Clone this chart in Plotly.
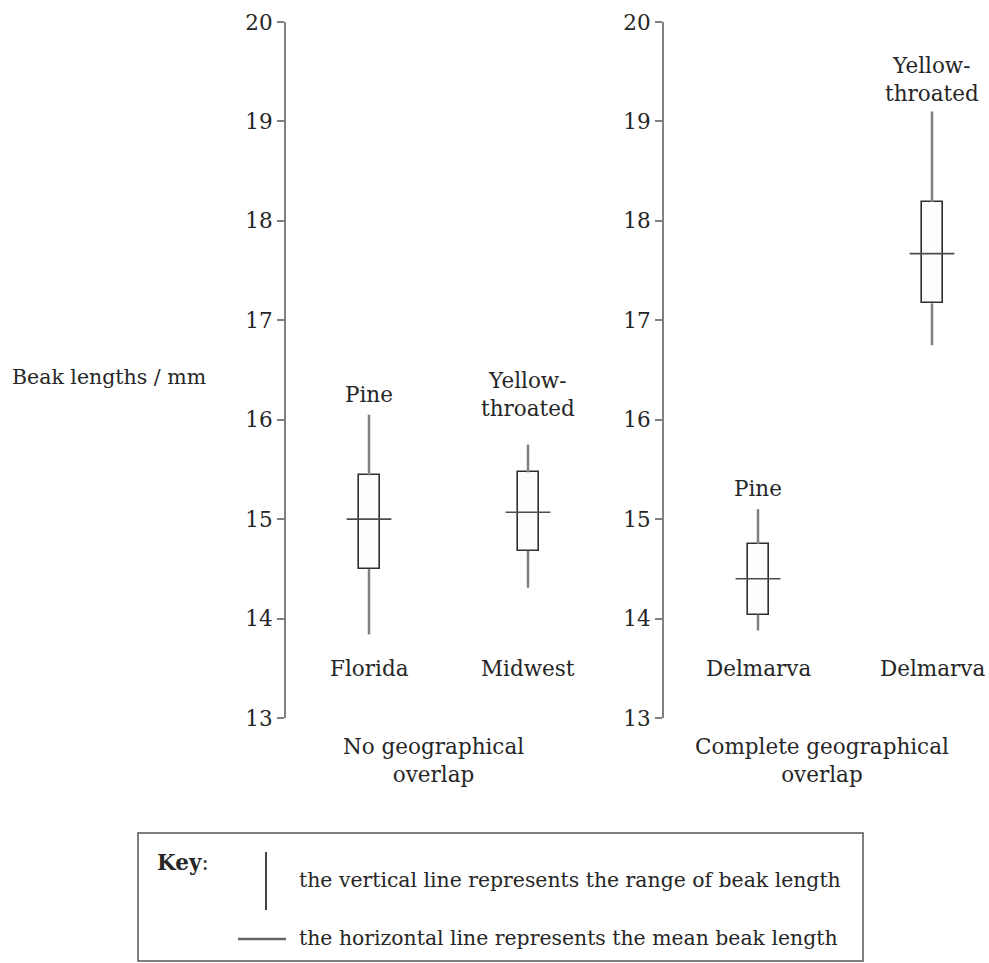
import plotly.graph_objects as go

# ---- data -------------------------------------------------------------
panels = ["No geographical<br>overlap", "Complete geographical<br>overlap"]
regions = [["Florida", "Midwest"], ["Delmarva", "Delmarva"]]
species = [["Pine", "Yellow-<br>throated"], ["Pine", "Yellow-<br>throated"]]
range_max = [[16.05, 15.75], [15.10, 19.10]]
box_top = [[15.44, 15.47], [14.75, 18.19]]
mean_len = [[15.00, 15.07], [14.40, 17.67]]
box_bottom = [[14.50, 14.68], [14.04, 17.17]]
range_min = [[13.84, 14.31], [13.88, 16.75]]
y_ticks = [13, 14, 15, 16, 17, 18, 19, 20]
y_title = "Beak lengths / mm"
key_title = "<b>Key</b>:"
key_range = "the vertical line represents the range of beak length"
key_mean = "the horizontal line represents the mean beak length"

# ---- style ------------------------------------------------------------
W, H = 989, 963
FONT = "DejaVu Serif"
FS = 21.5
TXT = "#262626"
AXC = "#808080"
WHISK = "#808080"
BOXL = "#2e2e2e"
MEANC = "#4d4d4d"


def px(x):
    return x / W


def py(y):
    return 1 - y / H


y_dom = [py(718), py(22)]
x_dom = [[px(286), px(600)], [px(664), 1.0]]
x_rng = [[(286 - 369) / 159, (600 - 369) / 159],
         [(664 - 758) / 174, (989 - 758) / 174]]
bar_w = [21 / 159, 21 / 174]
label_shift = [[6, 22], [6, 3]]

fig = go.Figure()
annotations = []
for p in range(2):
    xa = "x" if p == 0 else "x2"
    ya = "y" if p == 0 else "y2"
    xs = list(range(len(regions[p])))
    wx, wy = [], []
    for i in xs:
        wx += [i, i, None, i, i, None]
        wy += [range_max[p][i], box_top[p][i], None, box_bottom[p][i], range_min[p][i], None]
    fig.add_trace(go.Scatter(x=wx, y=wy, mode="lines", xaxis=xa, yaxis=ya,
                             line=dict(color=WHISK, width=2.5), showlegend=False,
                             hoverinfo="skip"))
    fig.add_trace(go.Bar(x=xs, y=[box_top[p][i] - box_bottom[p][i] for i in xs],
                         base=box_bottom[p], width=bar_w[p], xaxis=xa, yaxis=ya,
                         marker=dict(color="#fffdfb", line=dict(color=BOXL, width=1.6)),
                         showlegend=False))
    fig.add_trace(go.Scatter(x=xs, y=mean_len[p], mode="markers", xaxis=xa, yaxis=ya,
                             marker=dict(symbol="line-ew", size=32,
                                         line=dict(color=MEANC, width=1.6)),
                             showlegend=False))
    for i in xs:
        annotations.append(dict(x=i, y=range_max[p][i], xref=xa, yref=ya,
                                text=species[p][i], showarrow=False, yanchor="bottom",
                                yshift=label_shift[p][i], align="center",
                                font=dict(family=FONT, size=FS, color=TXT)))
        annotations.append(dict(x=i, y=13.5, xref=xa, yref=ya, text=regions[p][i],
                                showarrow=False, yanchor="middle",
                                font=dict(family=FONT, size=FS, color=TXT)))


def note(x, y, text, anchor="left", size=FS):
    annotations.append(dict(x=px(x), y=py(y), xref="paper", yref="paper", text=text,
                            showarrow=False, xanchor=anchor, yanchor="middle",
                            align="center", font=dict(family=FONT, size=size, color=TXT)))


note(433, 760, panels[0], "center")
note(822, 760, panels[1], "center")
note(10, 377, y_title, "left", 20.5)
note(155, 862, key_title)
note(297, 880, key_range, "left", 20.4)
note(297, 938, key_mean, "left", 20.4)

shapes = [
    dict(type="rect", xref="paper", yref="paper", x0=px(138), x1=px(863),
         y0=py(961), y1=py(833), line=dict(color="#555555", width=1.5)),
    dict(type="line", xref="paper", yref="paper", x0=px(266), x1=px(266),
         y0=py(852), y1=py(910), line=dict(color="#444444", width=2)),
    dict(type="line", xref="paper", yref="paper", x0=px(238), x1=px(286),
         y0=py(939), y1=py(939), line=dict(color="#666666", width=2.5)),
]

yax = dict(range=[13, 20], tickvals=y_ticks, ticks="outside", ticklen=7, tickwidth=2,
           tickcolor=AXC, showline=True, linecolor=AXC, linewidth=2, showgrid=False,
           zeroline=False, domain=y_dom, automargin=False,
           tickfont=dict(family=FONT, size=FS, color=TXT))
xax = dict(showgrid=False, zeroline=False, showline=False, showticklabels=False,
           ticks="", automargin=False)

fig.update_layout(
    width=W, height=H, margin=dict(l=0, r=0, t=0, b=0, autoexpand=False),
    paper_bgcolor="white", plot_bgcolor="white",
    xaxis=dict(xax, domain=x_dom[0], range=x_rng[0], anchor="y"),
    xaxis2=dict(xax, domain=x_dom[1], range=x_rng[1], anchor="y2"),
    yaxis=dict(yax, anchor="x"),
    yaxis2=dict(yax, anchor="x2"),
    annotations=annotations, shapes=shapes, bargap=0, showlegend=False,
)

fig.write_html("out.html", config={"displayModeBar": False},
               post_script="document.body.style.margin='0';"
                           "document.body.style.overflow='hidden';")
